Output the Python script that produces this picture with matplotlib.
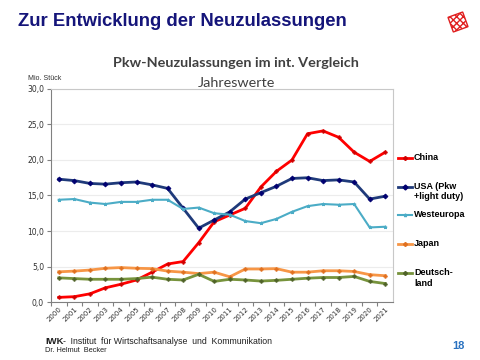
import numpy as np
import matplotlib.pyplot as plt
from matplotlib.lines import Line2D
from matplotlib.patches import Rectangle
import matplotlib.transforms as mtransforms

# data (Mio. Stueck)
years = [str(y) for y in range(2000, 2022)]
china = [0.65, 0.75, 1.15, 2.0, 2.5, 3.1, 4.2, 5.35, 5.7, 8.35, 11.3, 12.25, 13.2,
         16.2, 18.4, 20.0, 23.7, 24.1, 23.2, 21.1, 19.8, 21.1]
usa = [17.3, 17.1, 16.7, 16.6, 16.8, 16.9, 16.5, 16.0, 13.2, 10.4, 11.55, 12.7, 14.5,
       15.4, 16.3, 17.4, 17.5, 17.1, 17.2, 16.9, 14.5, 14.9]
westeuropa = [14.4, 14.5, 14.0, 13.8, 14.1, 14.1, 14.4, 14.4, 13.1, 13.3, 12.5, 12.3, 11.4,
              11.1, 11.7, 12.7, 13.5, 13.8, 13.7, 13.8, 10.5, 10.6]
japan = [4.25, 4.35, 4.5, 4.75, 4.85, 4.75, 4.7, 4.35, 4.2, 4.0, 4.2, 3.55, 4.65,
         4.65, 4.7, 4.2, 4.2, 4.4, 4.4, 4.3, 3.85, 3.7]
deutschland = [3.4, 3.3, 3.2, 3.2, 3.2, 3.3, 3.5, 3.2, 3.1, 3.9, 2.9, 3.2, 3.1,
               2.95, 3.05, 3.2, 3.35, 3.45, 3.45, 3.6, 2.9, 2.6]
yticks = [0, 5, 10, 15, 20, 25, 30]

series = [
    ('China', china, '#ff0000', '#d00000', 'P', 2.0),
    ('USA (Pkw\n+light duty)', usa, '#1f3a7a', '#000070', 'D', 2.0),
    ('Westeuropa', westeuropa, '#4bacc6', '#4bacc6', '*', 1.5),
    ('Japan', japan, '#f79646', '#e07020', 'P', 2.0),
    ('Deutsch-\nland', deutschland, '#77933c', '#4f6228', 'P', 2.0),
]

fig = plt.figure(figsize=(4.8, 3.6), dpi=100)
ax = fig.add_axes([0.10625, 0.16111, 0.7125, 0.59167])

x = np.arange(len(years))
for name, vals, col, mcol, mk, lw in series:
    ax.plot(x, vals, color=col, linewidth=lw, marker=mk, markersize=2.5,
            markerfacecolor=mcol, markeredgecolor=mcol, markeredgewidth=0.6, zorder=3)

ax.set_xlim(-0.5, len(years) - 0.5)
ax.set_ylim(0, 30)
ax.set_yticks(yticks)
ax.set_yticklabels([('%.1f' % v).replace('.', ',') for v in yticks],
                   fontsize=5.5, color='#303030')
ax.set_xticks(x - 0.5)
ax.set_xticks(x, minor=True)
ax.set_xticklabels([])
ax.set_xticklabels(years, minor=True, rotation=45, ha='right', rotation_mode='anchor',
                   fontsize=5, color='#303030')
ax.tick_params(axis='x', which='major', length=3, color='#808080')
ax.tick_params(axis='x', which='minor', length=0, pad=3)
ax.tick_params(axis='y', length=3, color='#808080', pad=2)
ax.grid(axis='y', color='#ececec', linewidth=0.8)
ax.set_axisbelow(True)
for s in ['left', 'bottom']:
    ax.spines[s].set_color('#808080')
    ax.spines[s].set_linewidth(0.8)
for s in ['top', 'right']:
    ax.spines[s].set_color('#c8c8c8')
    ax.spines[s].set_linewidth(0.8)

# legend, Excel style: handles aligned with first text line
for i, (name, vals, col, mcol, mk, lw) in enumerate(series):
    yy = 1 - (157.7 + i * 28.8) / 360
    fig.add_artist(Line2D([398 / 480, 405 / 480, 412 / 480], [yy, yy, yy], color=col,
                          linewidth=lw, marker=mk, markevery=[1], markersize=2.5,
                          markerfacecolor=mcol, markeredgecolor=mcol,
                          transform=fig.transFigure))
    fig.text(414 / 480, yy + 5 / 360, name, fontsize=6.5, fontweight='bold', va='top',
             ha='left', family='Liberation Sans', linespacing=1.25)

# titles
fig.text(18 / 480, 1 - 22 / 360, 'Zur Entwicklung der Neuzulassungen', fontsize=13.3,
         fontweight='bold', color='#15157a', family='Liberation Sans', va='center')
fig.text(236 / 480, 1 - 63 / 360, 'Pkw-Neuzulassungen im int. Vergleich', fontsize=10.4,
         fontweight='bold', color='#404040', family='Lato', ha='center', va='center')
fig.text(236 / 480, 1 - 83 / 360, 'Jahreswerte', fontsize=10.4, color='#404040',
         family='Lato', fontweight='normal', ha='center', va='center')
fig.text(28 / 480, 1 - 79 / 360, 'Mio. Stück', fontsize=5, color='#303030', va='center',
         family='Liberation Sans')

# footer
fig.text(45 / 480, 1 - 341 / 360, 'IWK', fontsize=6.8, fontweight='bold', va='center',
         color='#202020', family='Liberation Sans')
fig.text(63 / 480, 1 - 341 / 360, '-  Institut  für Wirtschaftsanalyse  und  Kommunikation',
         fontsize=6.3, va='center', family='Liberation Sans', color='#202020')
fig.text(45 / 480, 1 - 350 / 360, 'Dr. Helmut  Becker', fontsize=5.3, va='center',
         family='Liberation Sans', color='#202020')
fig.text(452 / 480, 1 - 346 / 360, '18', fontsize=8, fontweight='bold', va='center',
         color='#2a72c0', family='Liberation Sans')

# logo
plt.rcParams['hatch.color'] = '#e02020'
lax = fig.add_axes([446 / 480, 1 - 34 / 360, 24 / 480, 24 / 360])
lax.set_xlim(-1, 1)
lax.set_ylim(-1, 1)
lax.axis('off')
tr = mtransforms.Affine2D().rotate_deg(20) + lax.transData
lax.add_patch(Rectangle((-0.65, -0.65), 1.3, 1.3, facecolor='white', edgecolor='#e02020',
                        hatch='xxxxx', linewidth=1, transform=tr))

fig.savefig('out.png', dpi=100)
